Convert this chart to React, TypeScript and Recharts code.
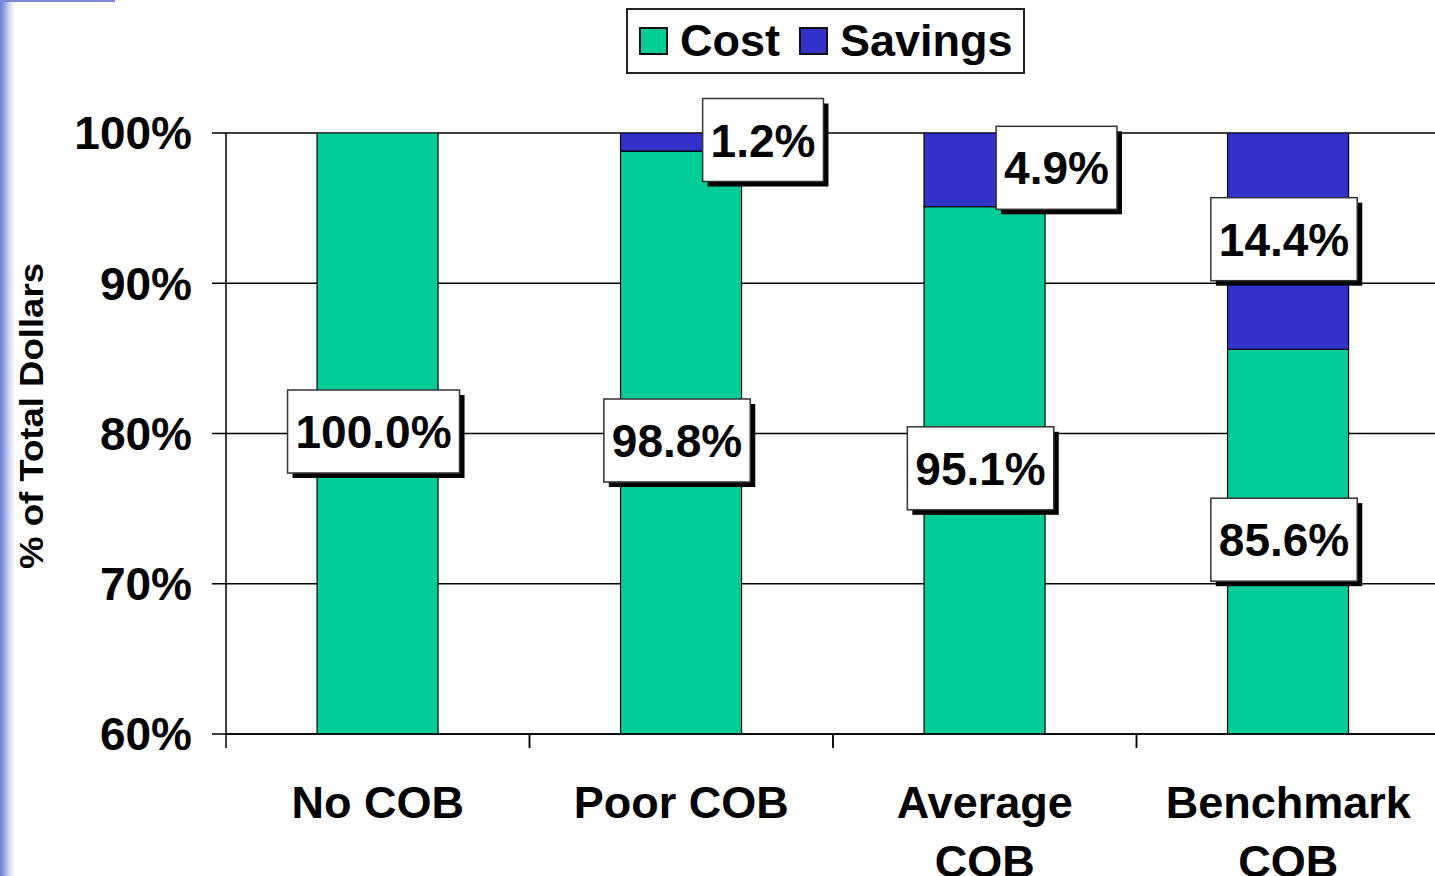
import React from 'react';
import { BarChart, Bar, XAxis, YAxis, CartesianGrid, Legend, LabelList } from 'recharts';

const categories = ['No COB', 'Poor COB', 'Average\nCOB', 'Benchmark\nCOB'];
const costValues = [100.0, 98.8, 95.1, 85.6];
const savingsValues = [0, 1.2, 4.9, 14.4];
const yTicks = [60, 70, 80, 90, 100];
const seriesNames = ['Cost', 'Savings'];
const seriesColors = ['#00CC99', '#3333CC'];

const data = categories.map((c, i) => ({ category: c, cost: costValues[i], savings: savingsValues[i] }));

const FONT = '"Liberation Sans", Arial, Helvetica, sans-serif';
const CHART_W = 1440;
const CHART_H = 876;
const MARGIN = { top: 133, right: 0, left: 0, bottom: 0 };
const YAXIS_W = 226;
const XAXIS_H = 142;
const PLOT_LEFT = MARGIN.left + YAXIS_W;
const BAND_W = (CHART_W - MARGIN.left - MARGIN.right - YAXIS_W) / categories.length;
const PLOT_BOTTOM = CHART_H - MARGIN.bottom - XAXIS_H;
const LABEL_FS = 46;

// label box placement tweaks (style), per category
const BASE_DX = -4;
const BASE_DY = -2;
const SAVINGS_DX = [0, 86, 76, 0];
const COST_DX = [0, 0, 0, 0];

const charW: Record<string, number> = { '.': 0.278, '%': 0.889 };
const textWidth = (s: string, fs: number) =>
  s.split('').reduce((a, ch) => a + (charW[ch] ?? 0.556), 0) * fs;

const makeLabel = (extraDx: number[]) => (props: any) => {
  const { x, y, width, height, value } = props;
  if (!value) return null;
  const cat = Math.floor((x + width / 2 - PLOT_LEFT) / BAND_W);
  const y0 = Math.min(y, y + height);
  const y1 = Math.min(Math.max(y, y + height), PLOT_BOTTOM);
  const cx = x + width / 2 + BASE_DX + (extraDx[cat] || 0);
  const cy = (y0 + y1) / 2 + BASE_DY;
  const txt = Number(value).toFixed(1) + '%';
  const bw = textWidth(txt, LABEL_FS) + 16;
  const bh = 83;
  return (
    <g>
      <rect x={cx - bw / 2 + 5} y={cy - bh / 2 + 5} width={bw} height={bh} fill="#000" />
      <rect x={cx - bw / 2} y={cy - bh / 2} width={bw} height={bh} fill="#fff" stroke="#333" strokeWidth={1.5} />
      <text
        x={cx}
        y={cy}
        dy={LABEL_FS * 0.36}
        textAnchor="middle"
        fontFamily={FONT}
        fontWeight="bold"
        fontSize={LABEL_FS}
        fill="#000"
      >
        {txt}
      </text>
    </g>
  );
};

const XTick = (props: any) => {
  const { x, y, payload } = props;
  const lines = String(payload.value).split('\n');
  const bx = x - BAND_W / 2;
  return (
    <g>
      <line x1={bx} x2={bx} y1={y} y2={y + 14} stroke="#000" strokeWidth={1.5} />
      <line x1={bx + BAND_W} x2={bx + BAND_W} y1={y} y2={y + 14} stroke="#000" strokeWidth={1.5} />
      {lines.map((l, i) => (
        <text
          key={i}
          x={x}
          y={y + 84 + i * 59}
          textAnchor="middle"
          fontFamily={FONT}
          fontWeight="bold"
          fontSize={45}
          fill="#000"
        >
          {l}
        </text>
      ))}
    </g>
  );
};

const YTitle = () => (
  <text
    x={43}
    y={416}
    transform="rotate(-90 43 416)"
    textAnchor="middle"
    fontFamily={FONT}
    fontWeight="bold"
    fontSize={33}
    fill="#000"
    textLength={306}
    lengthAdjust="spacingAndGlyphs"
  >
    % of Total Dollars
  </text>
);

const LegendBox = () => (
  <div
    style={{
      boxSizing: 'border-box',
      width: 399,
      height: 66,
      border: '2px solid #222',
      background: '#fff',
      display: 'flex',
      alignItems: 'center',
      paddingLeft: 11,
      fontFamily: FONT,
      fontWeight: 'bold',
      fontSize: 45,
      color: '#000',
    }}
  >
    {seriesNames.map((n, i) => (
      <div key={n} style={{ display: 'flex', alignItems: 'center', marginRight: i === 0 ? 19 : 0 }}>
        <div
          style={{
            boxSizing: 'border-box',
            width: 29,
            height: 28,
            border: '2px solid #111',
            background: seriesColors[i],
            marginRight: 12,
          }}
        />
        <span style={{ lineHeight: '50px' }}>{n}</span>
      </div>
    ))}
  </div>
);

export default function App() {
  return (
    <div
      style={{
        position: 'absolute',
        left: 0,
        top: 0,
        width: 1435,
        height: 876,
        overflow: 'hidden',
        background: '#fff',
      }}
    >
      <div
        style={{
          position: 'absolute',
          left: 0,
          top: 0,
          width: 16,
          height: 876,
          background: 'linear-gradient(to right, #6c7ed0 0px, #8e9de0 4px, #cfd6f3 9px, #ffffff 15px)',
        }}
      />
      <div
        style={{
          position: 'absolute',
          left: 0,
          top: 0,
          width: 115,
          height: 2,
          background: '#7a8ad6',
        }}
      />
      <div style={{ position: 'absolute', left: 0, top: 0 }}>
        <BarChart
          width={CHART_W}
          height={CHART_H}
          data={data}
          margin={MARGIN}
          barCategoryGap="30%"
        >
          <CartesianGrid vertical={false} stroke="#000" strokeWidth={1.5} />
          <XAxis
            dataKey="category"
            height={XAXIS_H}
            tickLine={false}
            tickSize={0}
            tickMargin={0}
            axisLine={{ stroke: '#000', strokeWidth: 1.5 }}
            tick={<XTick />}
            interval={0}
          />
          <YAxis
            width={YAXIS_W}
            domain={[60, 100]}
            ticks={yTicks}
            allowDataOverflow
            tickFormatter={(v: number) => `${v}%`}
            tickSize={14}
            tickMargin={20}
            tickLine={{ stroke: '#000', strokeWidth: 1.5 }}
            axisLine={{ stroke: '#000', strokeWidth: 1.5 }}
            tick={{ fontFamily: FONT, fontWeight: 'bold', fontSize: 46, fill: '#000' }}
            label={<YTitle />}
          />
          <Legend
            layout="horizontal"
            align="center"
            verticalAlign="middle"
            wrapperStyle={{ top: 8, left: 626, width: 399, height: 66 }}
            content={<LegendBox />}
          />
          <Bar dataKey="cost" name="Cost" stackId="a" fill={seriesColors[0]} stroke="#000" strokeWidth={1.2} isAnimationActive={false}>
            <LabelList dataKey="cost" content={makeLabel(COST_DX)} />
          </Bar>
          <Bar dataKey="savings" name="Savings" stackId="a" fill={seriesColors[1]} stroke="#000" strokeWidth={1.2} isAnimationActive={false}>
            <LabelList dataKey="savings" content={makeLabel(SAVINGS_DX)} />
          </Bar>
        </BarChart>
      </div>
    </div>
  );
}
